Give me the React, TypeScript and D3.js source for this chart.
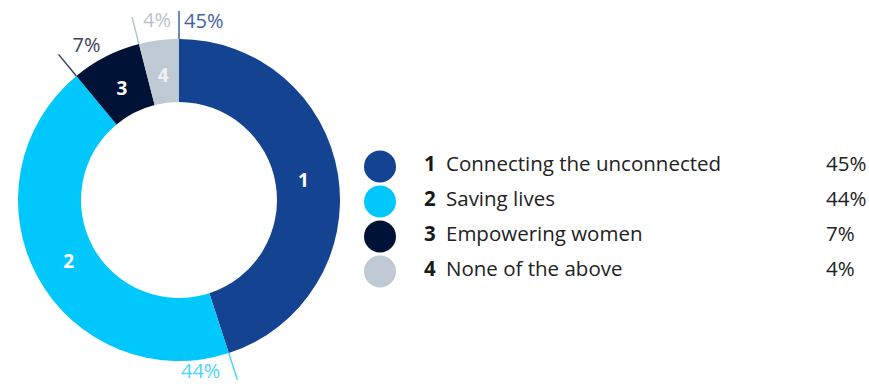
import React from 'react'
import * as d3 from 'd3'

const categories = ['Connecting the unconnected', 'Saving lives', 'Empowering women', 'None of the above']
const values = [45, 44, 7, 4]
const colors = ['#134391', '#00c8fd', '#001235', '#bfc9d3']
const labelColors = ['#3f63a6', '#4fd3f7', '#3a4257', '#b9c3cd']
const numberColors = ['#ffffff', '#ffffff', '#ffffff', '#eef2f6']

const W = 869
const H = 385
const cx = 179
const cy = 200
const rOuter = 161
const rInner = 98
const rTick = 189
const rLabel = 126

export default function App() {
  const pie = d3.pie<number>().sort(null).value(d => d)
  const arcs = pie(values)
  const arc = d3.arc<d3.PieArcDatum<number>>().innerRadius(rInner).outerRadius(rOuter)
  const labelArc = d3.arc<d3.PieArcDatum<number>>().innerRadius(rLabel).outerRadius(rLabel)
  const font = "'Open Sans', 'Noto Sans', sans-serif"

  const legendY = d3.scaleBand<number>().domain(d3.range(categories.length)).range([149, 289])

  return (
    <svg width={W} height={H} style={{ position: 'absolute', left: 0, top: 0 }} fontFamily={font}>
      <rect width={W} height={H} fill="#fff" />
      <g transform={`translate(${cx},${cy})`}>
        {arcs.map((a, i) => (
          <path key={i} d={arc(a) || ''} fill={colors[i]} />
        ))}
        {arcs.map((a, i) => {
          const [x, y] = labelArc.centroid(a)
          return (
            <text key={'n' + i} x={x} y={y} dy="0.36em" textAnchor="middle" fill={numberColors[i]}
              fontSize={19} fontWeight="bold">{i + 1}</text>
          )
        })}
        {arcs.map((a, i) => {
          const ang = a.startAngle
          const x0 = rOuter * Math.sin(ang), y0 = -rOuter * Math.cos(ang)
          const x1 = rTick * Math.sin(ang), y1 = -rTick * Math.cos(ang)
          // label placement relative to tick end
          let tx = x1 + 5, ty = y1 + 17, anchor: 'start' | 'end' = 'start'
          if (i === 1) { tx = x1 - 17; ty = y1 - 2; anchor = 'end' }
          if (i === 2) { tx = x1 + 14; ty = y1 - 2; anchor = 'start' }
          if (i === 3) { tx = x1 + 39; ty = y1 + 10; anchor = 'end' }
          return (
            <g key={'t' + i}>
              <line x1={x0} y1={y0} x2={x1} y2={y1} stroke={labelColors[i]} strokeWidth={1.5} />
              <text x={tx} y={ty} textAnchor={anchor} fill={labelColors[i]} fontSize={20}>{values[i]}%</text>
            </g>
          )
        })}
      </g>
      {categories.map((c, i) => {
        const y = (legendY(i) || 0) + legendY.bandwidth() / 2
        return (
          <g key={'l' + i}>
            <circle cx={380} cy={y} r={16} fill={colors[i]} />
            <text x={424} y={y} dy="0.2em" fontSize={20.5} fontWeight="bold" fill="#1a1a1a">{i + 1}</text>
            <text x={446} y={y} dy="0.2em" fontSize={20.5} fill="#222">{c}</text>
            <text x={826} y={y} dy="0.2em" fontSize={20.5} fill="#222">{values[i]}%</text>
          </g>
        )
      })}
    </svg>
  )
}
